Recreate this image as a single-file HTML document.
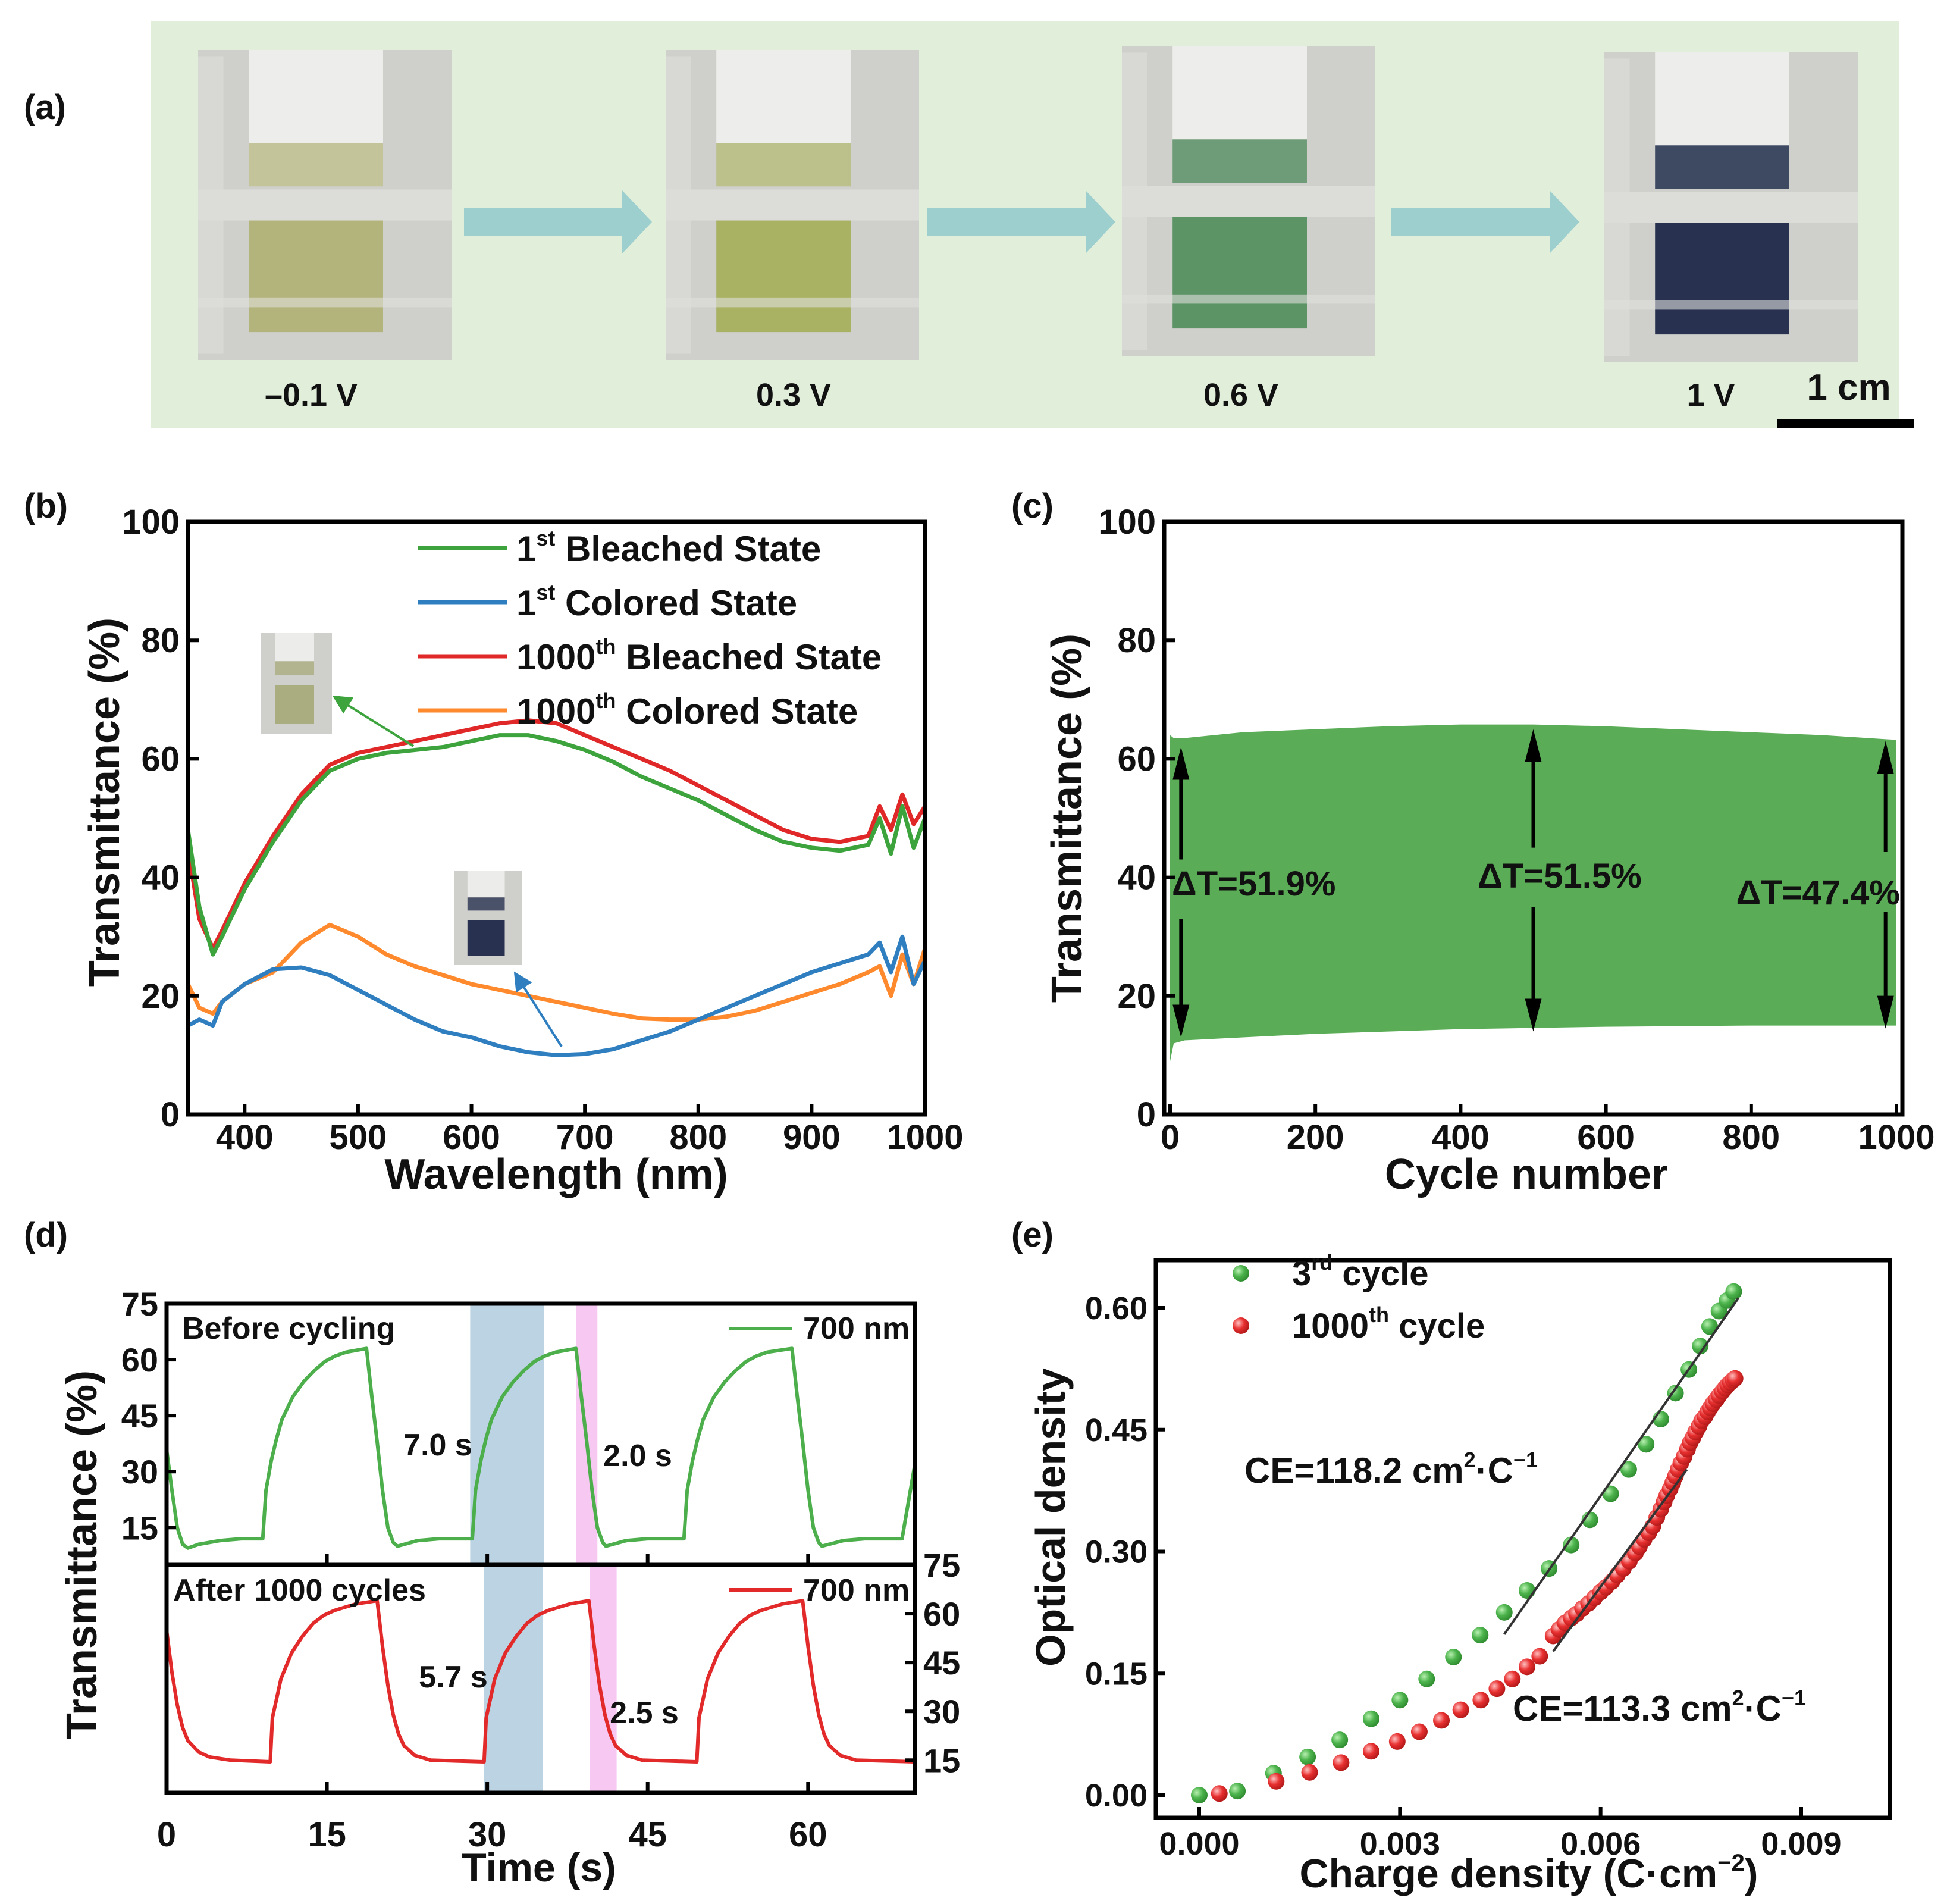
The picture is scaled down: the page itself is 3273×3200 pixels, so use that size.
<!DOCTYPE html>
<html><head><meta charset="utf-8">
<style>
html,body{margin:0;padding:0;background:#fff;}
svg{display:block;}
text{font-family:"Liberation Sans",Arial,sans-serif;font-weight:bold;fill:#111;}
</style></head>
<body>
<svg id="fig" xmlns="http://www.w3.org/2000/svg" width="3273" height="3200" viewBox="0 0 3273 3200">
<defs>
<marker id="ahG" markerWidth="8" markerHeight="8" refX="7" refY="4" orient="auto" markerUnits="strokeWidth"><path d="M0,0 L8,4 L0,8 z" fill="#3da33d"/></marker>
<marker id="ahB" markerWidth="8" markerHeight="8" refX="7" refY="4" orient="auto" markerUnits="strokeWidth"><path d="M0,0 L8,4 L0,8 z" fill="#2f7fc0"/></marker>
<radialGradient id="gdot" cx="0.35" cy="0.35" r="0.7"><stop offset="0" stop-color="#b8f0b0"/><stop offset="0.5" stop-color="#4cb34c"/><stop offset="1" stop-color="#2e8a2e"/></radialGradient>
<radialGradient id="rdot" cx="0.35" cy="0.35" r="0.7"><stop offset="0" stop-color="#ffc0c0"/><stop offset="0.5" stop-color="#e83030"/><stop offset="1" stop-color="#b01818"/></radialGradient>
</defs>

<g>
<text x="40" y="200" font-size="58">(a)</text>
<rect x="253" y="36" width="2939" height="684" fill="#e1eeda"/>
<g id="photos"></g>
<text x="523" y="682" font-size="54" text-anchor="middle">–0.1 V</text>
<text x="1334" y="682" font-size="54" text-anchor="middle">0.3 V</text>
<text x="2086" y="682" font-size="54" text-anchor="middle">0.6 V</text>
<text x="2876" y="682" font-size="54" text-anchor="middle">1 V</text>
<text x="3108" y="672" font-size="62" text-anchor="middle">1 cm</text>
<rect x="2988" y="704" width="229" height="16" fill="#000"/>
</g>

<g id="pb">
<text x="40" y="870" font-size="58">(b)</text>
</g>
<g id="pc">
<text x="1700" y="870" font-size="58">(c)</text>
</g>
<g id="pd">
<text x="40" y="2095" font-size="58">(d)</text>
</g>
<g id="pe">
<text x="1700" y="2095" font-size="58">(e)</text>
</g>
</svg>
<script>
const NS="http://www.w3.org/2000/svg";
function mk(parent,tag,attrs,txt){const e=document.createElementNS(NS,tag);for(const k in attrs)e.setAttribute(k,attrs[k]);if(txt!==undefined)e.textContent=txt;parent.appendChild(e);return e;}

const bWl=[350,360,372,380,400,425,450,475,500,525,550,575,600,625,650,675,700,725,750,775,800,825,850,875,900,925,950,960,970,980,990,1000];
const bGreen=[48,35,27,30,38,46,53,58,60,61,61.5,62,63,64,64,63,61.5,59.5,57,55,53,50.5,48,46,45,44.5,45.5,50,44,52,45,50];
const bRed=[45,33,28,31,39,47,54,59,61,62,63,64,65,66,66.5,66,64,62,60,58,55.5,53,50.5,48,46.5,46,47,52,48,54,49,52];
const bBlue=[15,16,15,19,22,24.5,24.8,23.5,21,18.5,16,14,13,11.5,10.5,10,10.2,11,12.5,14,16,18,20,22,24,25.5,27,29,24,30,22,26];
const bOrange=[22,18,17,19,22,24,29,32,30,27,25,23.5,22,21,20,19,18,17,16.2,16,16,16.5,17.5,19,20.5,22,24,25,20,27,22,28];
const bXTicks=[400,500,600,700,800,900,1000];
const bYTicks=[0,20,40,60,80,100];

const cCycles=[0,5,20,100,200,300,400,500,600,700,800,900,1000];
const cUpper=[64,63.5,63.5,64.5,65,65.5,65.8,65.8,65.5,65,64.5,64,63.2];
const cLower=[9,12,12.5,13,13.6,14,14.4,14.6,14.8,14.9,15,15,15];
const cXTicks=[0,200,400,600,800,1000];
const cYTicks=[0,20,40,60,80,100];

const dTimeTop=[0,0.5,1,1.5,2,3,5,7,9,9.3,9.8,10.3,10.8,11.8,12.8,13.8,14.8,15.8,16.8,18.7,19.2,19.7,20.2,20.7,21.2,21.6,23.5,25.5,28.6,28.9,29.4,29.9,30.4,31.4,32.4,33.4,34.4,35.4,36.4,38.3,38.8,39.3,39.8,40.3,40.8,41.1,43,45,48.4,48.7,49.2,49.7,50.2,51.2,52.2,53.2,54.2,55.2,56.2,58.5,59,59.5,60,60.5,61,61.3,63.3,65.3,68.8,69.4,70];
const dTop=[36,25,15,10.5,9.5,10.5,11.5,12,12,25,33,39,44,50,54,57,59.5,61,62,63,50,38,25,15,11,10,11.5,12,12,25,33,39,44,50,54,57,59.5,61,62,63,50,38,25,15,11,10,11.5,12,12,25,33,39,44,50,54,57,59.5,61,62,63,50,38,25,15,11,10,11.5,12,12,22,32];
const dTimeBot=[0,0.5,1,1.5,2,3,4,6,9.7,9.9,10.7,11.7,12.7,13.7,14.7,15.7,16.7,17.7,19.7,20.2,20.7,21.2,21.7,22.2,23.2,24.7,29.7,29.9,30.7,31.7,32.7,33.7,34.7,35.7,36.7,37.7,39.5,40,40.5,41,41.5,42,43,44.5,49.6,49.8,50.6,51.6,52.6,53.6,54.6,55.6,56.6,57.6,59.5,60,60.5,61,61.5,62,63,64.5,70];
const dBot=[55,42,32,25,21,17.5,16,15,14.5,28,40,48,53,57,59.5,61,62,63,64,50,38,29,23,19.5,16.5,15,14.5,28,40,48,53,57,59.5,61,62,63,64,50,38,29,23,19.5,16.5,15,14.5,28,40,48,53,57,59.5,61,62,63,64,50,38,29,23,19.5,16.5,15,14.5];
const dXTicks=[0,15,30,45,60];
const dYTicks=[15,30,45,60,75];
const dBlueTop=[28.4,35.3], dPinkTop=[38.3,40.3], dBlueBot=[29.7,35.2], dPinkBot=[39.6,42.1];

const eGreenX=[0,0.00057,0.00111,0.00162,0.0021,0.00257,0.003,0.0034,0.0038,0.0042,0.00456,0.0049,0.00523,0.00556,0.00584,0.00615,0.00642,0.00668,0.0069,0.00712,0.00732,0.00749,0.00763,0.00777,0.00789,0.00799];
const eGreenY=[0,0.005,0.027,0.047,0.068,0.094,0.117,0.143,0.170,0.197,0.225,0.252,0.279,0.308,0.339,0.371,0.401,0.432,0.463,0.495,0.524,0.553,0.577,0.596,0.609,0.62];
const eRedX=[0.0003,0.00115,0.00165,0.00212,0.00257,0.00296,0.00329,0.00362,0.00391,0.00421,0.00445,0.00468,0.0049,0.00509,0.00529,0.00538,0.00547,0.00556,0.00564,0.00573,0.00582,0.00591,0.006,0.00608,0.00617,0.00625,0.00634,0.00643,0.00652,0.00658,0.00665,0.00672,0.00678,0.00684,0.0069,0.00695,0.00699,0.00704,0.00708,0.00712,0.00716,0.0072,0.00725,0.0073,0.00734,0.00738,0.00742,0.00747,0.00751,0.00756,0.0076,0.00764,0.00768,0.00773,0.00777,0.00782,0.00786,0.0079,0.00794,0.00798,0.00801];
const eRedY=[0.002,0.017,0.028,0.04,0.054,0.066,0.078,0.092,0.105,0.117,0.131,0.143,0.158,0.171,0.196,0.204,0.212,0.218,0.223,0.23,0.236,0.243,0.25,0.256,0.263,0.271,0.279,0.288,0.298,0.306,0.315,0.323,0.331,0.342,0.352,0.361,0.369,0.377,0.385,0.393,0.401,0.409,0.417,0.426,0.434,0.44,0.447,0.454,0.461,0.466,0.472,0.477,0.482,0.487,0.492,0.497,0.501,0.505,0.508,0.511,0.513];
const eFitGreen=[[0.00456,0.198],[0.00806,0.612]];
const eFitRed=[[0.00529,0.177],[0.00729,0.401]];
const eXTicks=[0,0.003,0.006,0.009];
const eYTicks=[0,0.15,0.30,0.45,0.60];

const photosG=document.getElementById('photos');
const photoBoxes=[[333,84],[1119,84],[1886,78],[2697,88]];
const filmColors=['#b3b37c','#a9b162','#5c9466','#283250'];
const bandColors=['#c4c49a','#bcc08a','#6f9c78','#3e4a62'];
for(let i=0;i<4;i++){
  const [x,y]=photoBoxes[i];const w=426,h=521;
  const g=mk(photosG,'g',{});
  
  
  mk(g,'rect',{x:x,y:y,width:w,height:h,fill:'#cfcfcb'});
  mk(g,'rect',{x:x,y:y+h*0.02,width:w*0.1,height:h*0.96,fill:'#d8d8d4'});
  mk(g,'rect',{x:x+w*0.2,y:y,width:w*0.53,height:h*0.3,fill:'#ededeb'});
  mk(g,'rect',{x:x+w*0.2,y:y+h*0.3,width:w*0.53,height:h*0.14,fill:bandColors[i]});
  mk(g,'rect',{x:x,y:y+h*0.45,width:w,height:h*0.1,fill:'#dcdcd8'});
  mk(g,'rect',{x:x+w*0.2,y:y+h*0.55,width:w*0.53,height:h*0.36,fill:filmColors[i]});
  mk(g,'rect',{x:x,y:y+h*0.8,width:w,height:h*0.03,fill:'#e0e0dc',opacity:0.6});
}
const arrowsA=[[780,1096],[1559,1875],[2339,2655]];
arrowsA.forEach(a=>{
  const p=mk(photosG,'path',{d:`M${a[0]},350 L${a[1]-50},350 L${a[1]-50},320 L${a[1]},373 L${a[1]-50},426 L${a[1]-50},396 L${a[0]},396 Z`,fill:'#9dcfcf'});
  
  
});

function axisBox(g,x0,y0,x1,y1){mk(g,'rect',{x:x0,y:y0,width:x1-x0,height:y1-y0,fill:'none',stroke:'#000','stroke-width':7});}

(function(){
const g=document.getElementById('pb');
const X0=316,X1=1555,Y0=877,Y1=1873;
const sx=v=>X0+(v-350)/(1000-350)*(X1-X0);
const sy=v=>Y1-(v/100)*(Y1-Y0);
const series=[[bGreen,'#3da33d','series-1st-bleached'],[bRed,'#e02828','series-1000th-bleached'],[bBlue,'#2f7fc0','series-1st-colored'],[bOrange,'#ff8a2e','series-1000th-colored']];
const order=[1,0,3,2];
order.forEach(i=>{const s=series[i];
  const pts=bWl.map((w,j)=>sx(w).toFixed(1)+','+sy(s[0][j]).toFixed(1)).join(' ');
  const pl=mk(g,'polyline',{points:pts,fill:'none',stroke:s[1],'stroke-width':7,'stroke-linejoin':'round'});
  
  
});
axisBox(g,X0,Y0,X1,Y1);
bXTicks.forEach(t=>{mk(g,'line',{x1:sx(t),x2:sx(t),y1:Y1,y2:Y1-18,stroke:'#000','stroke-width':6});
  const tx=mk(g,'text',{x:sx(t),y:Y1+58,'font-size':58,'text-anchor':'middle'},String(t));
  
  });
bYTicks.forEach(t=>{mk(g,'line',{x1:X0,x2:X0+18,y1:sy(t),y2:sy(t),stroke:'#000','stroke-width':6});
  const tx=mk(g,'text',{x:X0-14,y:sy(t)+20,'font-size':58,'text-anchor':'end'},String(t));
  
  });
let t=mk(g,'text',{x:935,y:1998,'font-size':72,'text-anchor':'middle'},'Wavelength (nm)');


t=mk(g,'text',{x:0,y:0,'font-size':72,'text-anchor':'middle',transform:'translate(200,1348) rotate(-90)'},'Transmittance (%)');


const leg=[['#3da33d','1','st',' Bleached State'],['#2f7fc0','1','st',' Colored State'],['#e02828','1000','th',' Bleached State'],['#ff8a2e','1000','th',' Colored State']];
leg.forEach((l,i)=>{const y=921+i*91;
  const e=mk(g,'g',{});
  
  
  mk(e,'line',{x1:702,x2:853,y1:y,y2:y,stroke:l[0],'stroke-width':7});
  const tx=mk(e,'text',{x:868,y:y+22,'font-size':60});
  mk(tx,'tspan',{},l[1]);mk(tx,'tspan',{'font-size':36,dy:-26},l[2]);mk(tx,'tspan',{dy:26},l[3]);
});
function inset(x,y,w,h,film){const ig=mk(g,'g',{});
  
  
  mk(ig,'rect',{x:x,y:y,width:w,height:h,fill:'#cfcfcb'});
  mk(ig,'rect',{x:x+w*0.2,y:y,width:w*0.55,height:h*0.28,fill:'#ececea'});
  mk(ig,'rect',{x:x+w*0.2,y:y+h*0.28,width:w*0.55,height:h*0.14,fill:film,opacity:0.8});
  mk(ig,'rect',{x:x+w*0.2,y:y+h*0.52,width:w*0.55,height:h*0.38,fill:film});}
inset(438,1064,120,169,'#a9ad80');inset(763,1464,114,158,'#283250');
let a=mk(g,'line',{x1:695,y1:1254,x2:562,y2:1171,stroke:'#3da33d','stroke-width':4,'marker-end':'url(#ahG)'});


a=mk(g,'line',{x1:944,y1:1759,x2:866,y2:1636,stroke:'#2f7fc0','stroke-width':4,'marker-end':'url(#ahB)'});


})();

(function(){
const g=document.getElementById('pc');
const X0=1957,X1=3198,Y0=877,Y1=1873;
const sx=v=>X0+10+v/1000*(X1-X0-20);
const sy=v=>Y1-(v/100)*(Y1-Y0);
let d='M'+cCycles.map((c,i)=>sx(c).toFixed(1)+','+sy(cUpper[i]).toFixed(1)).join(' L');
for(let i=cCycles.length-1;i>=0;i--)d+=' L'+sx(cCycles[i]).toFixed(1)+','+sy(cLower[i]).toFixed(1);
d+='Z';
const area=mk(g,'path',{d:d,fill:'#5aad56'});


axisBox(g,X0,Y0,X1,Y1);
cXTicks.forEach(t=>{mk(g,'line',{x1:sx(t),x2:sx(t),y1:Y1,y2:Y1-18,stroke:'#000','stroke-width':6});
  const tx=mk(g,'text',{x:sx(t),y:Y1+58,'font-size':58,'text-anchor':'middle'},String(t));
  
  });
cYTicks.forEach(t=>{mk(g,'line',{x1:X0,x2:X0+18,y1:sy(t),y2:sy(t),stroke:'#000','stroke-width':6});
  const tx=mk(g,'text',{x:X0-14,y:sy(t)+20,'font-size':58,'text-anchor':'end'},String(t));
  
  });
let t=mk(g,'text',{x:2566,y:1998,'font-size':72,'text-anchor':'middle'},'Cycle number');


t=mk(g,'text',{x:0,y:0,'font-size':72,'text-anchor':'middle',transform:'translate(1818,1375) rotate(-90)'},'Transmittance (%)');


const arr=[[15,62,13,'ΔT=51.9%',1970,1505,'start'],[500,65,14,'ΔT=51.5%',2622,1492,'middle'],[985,63,14.5,'ΔT=47.4%',3194,1520,'end']];
arr.forEach(a=>{const x=sx(a[0]);const top=sy(a[1]),bot=sy(a[2]);const mid=(top+bot)/2;
  const ag=mk(g,'g',{});
  
  
  mk(ag,'line',{x1:x,x2:x,y1:top+40,y2:mid-55,stroke:'#000','stroke-width':6});
  mk(ag,'line',{x1:x,x2:x,y1:mid+45,y2:bot-40,stroke:'#000','stroke-width':6});
  mk(ag,'path',{d:`M${x},${top} L${x-14},${top+55} L${x+14},${top+55}Z`,fill:'#000'});
  mk(ag,'path',{d:`M${x},${bot} L${x-14},${bot-55} L${x+14},${bot-55}Z`,fill:'#000'});
  mk(ag,'text',{x:a[4],y:a[5],'font-size':58,'text-anchor':a[6]},a[3]);
});
})();

(function(){
const g=document.getElementById('pd');
const X0=280,X1=1538,YT=2191,YM=2630,YB=3013;
const sx=v=>X0+v/70*(X1-X0);
const syT=v=>YM-(v-5)/70*(YM-YT);
const syB=v=>YB-(v-5)/70*(YB-YM);
const sh=(r,y0,y1,c,n)=>{const e=mk(g,'rect',{x:sx(r[0]),y:y0,width:sx(r[1])-sx(r[0]),height:y1-y0,fill:c});
  
  };
sh(dBlueTop,YT,YM,'#bcd3e4','coloring-time-band-top');sh(dPinkTop,YT,YM,'#f7c8f2','bleaching-time-band-top');
sh(dBlueBot,YM,YB,'#bcd3e4','coloring-time-band-bottom');sh(dPinkBot,YM,YB,'#f7c8f2','bleaching-time-band-bottom');
let pl=mk(g,'polyline',{points:dTimeTop.map((t,i)=>sx(t).toFixed(1)+','+syT(dTop[i]).toFixed(1)).join(' '),fill:'none',stroke:'#4caf4c','stroke-width':6,'stroke-linejoin':'round'});


pl=mk(g,'polyline',{points:dTimeBot.map((t,i)=>sx(t).toFixed(1)+','+syB(dBot[i]).toFixed(1)).join(' '),fill:'none',stroke:'#e22a2a','stroke-width':6,'stroke-linejoin':'round'});


axisBox(g,X0,YT,X1,YB);
mk(g,'line',{x1:X0,x2:X1,y1:YM,y2:YM,stroke:'#000','stroke-width':7});
dXTicks.forEach(t=>{mk(g,'line',{x1:sx(t),x2:sx(t),y1:YB,y2:YB-18,stroke:'#000','stroke-width':6});
  mk(g,'line',{x1:sx(t),x2:sx(t),y1:YM,y2:YM-18,stroke:'#000','stroke-width':6});
  const tx=mk(g,'text',{x:sx(t),y:YB+90,'font-size':58,'text-anchor':'middle'},String(t));
  
  });
dYTicks.forEach(t=>{mk(g,'line',{x1:X0,x2:X0+16,y1:syT(t),y2:syT(t),stroke:'#000','stroke-width':6});
  let tx=mk(g,'text',{x:X0-14,y:syT(t)+20,'font-size':56,'text-anchor':'end'},String(t));
  
  
  mk(g,'line',{x1:X1,x2:X1-16,y1:syB(t),y2:syB(t),stroke:'#000','stroke-width':6});
  tx=mk(g,'text',{x:X1+14,y:syB(t)+20,'font-size':56,'text-anchor':'start'},String(t));
  
  });
let t=mk(g,'text',{x:906,y:3162,'font-size':68,'text-anchor':'middle'},'Time (s)');


t=mk(g,'text',{x:0,y:0,'font-size':72,'text-anchor':'middle',transform:'translate(162,2613) rotate(-90)'},'Transmittance (%)');


const labels=[['Before cycling',306,2250,'start'],['After 1000 cycles',291,2690,'start'],['700 nm',1350,2250,'start'],['700 nm',1350,2690,'start'],['7.0 s',736,2446,'middle'],['2.0 s',1072,2464,'middle'],['5.7 s',762,2836,'middle'],['2.5 s',1083,2896,'middle']];
labels.forEach(l=>{const tx=mk(g,'text',{x:l[1],y:l[2],'font-size':52,'text-anchor':l[3]},l[0]);
  
  });
mk(g,'line',{x1:1226,x2:1332,y1:2233,y2:2233,stroke:'#4caf4c','stroke-width':6});
mk(g,'line',{x1:1226,x2:1332,y1:2672,y2:2672,stroke:'#e22a2a','stroke-width':6});
})();

(function(){
const g=document.getElementById('pe');
const X0=1943,X1=3177,Y0=2118,Y1=3055;
const sx=v=>2016+v/0.009*(3028-2016);
const sy=v=>3017-v/0.6*(3017-2198);
axisBox(g,X0,Y0,X1,Y1);
eXTicks.forEach(t=>{mk(g,'line',{x1:sx(t),x2:sx(t),y1:Y1,y2:Y1-18,stroke:'#000','stroke-width':6});
  const tx=mk(g,'text',{x:sx(t),y:Y1+62,'font-size':54,'text-anchor':'middle'},t.toFixed(3));
  
  });
eYTicks.forEach(t=>{mk(g,'line',{x1:X0,x2:X0+16,y1:sy(t),y2:sy(t),stroke:'#000','stroke-width':6});
  const tx=mk(g,'text',{x:X0-14,y:sy(t)+19,'font-size':54,'text-anchor':'end'},t.toFixed(2));
  
  });
eGreenX.forEach((x,i)=>{const c=mk(g,'circle',{cx:sx(x),cy:sy(eGreenY[i]),r:14,fill:'url(#gdot)'});
  
  });
eRedX.forEach((x,i)=>{const c=mk(g,'circle',{cx:sx(x),cy:sy(eRedY[i]),r:14,fill:'url(#rdot)'});
  
  });
let l=mk(g,'line',{x1:sx(eFitGreen[0][0]),y1:sy(eFitGreen[0][1]),x2:sx(eFitGreen[1][0]),y2:sy(eFitGreen[1][1]),stroke:'#333','stroke-width':4});


l=mk(g,'line',{x1:sx(eFitRed[0][0]),y1:sy(eFitRed[0][1]),x2:sx(eFitRed[1][0]),y2:sy(eFitRed[1][1]),stroke:'#333','stroke-width':4});


function ce(x,y,num,name){const tx=mk(g,'text',{x:x,y:y,'font-size':60});
  
  
  mk(tx,'tspan',{},'CE='+num+' cm');mk(tx,'tspan',{'font-size':36,dy:-26},'2');mk(tx,'tspan',{dy:26},'·C');mk(tx,'tspan',{'font-size':36,dy:-26},'−1');}
ce(2092,2492,'118.2','ce-label-3rd-cycle');ce(2543,2892,'113.3','ce-label-1000th-cycle');
const lg=[['url(#gdot)',2140,'3','rd',' cycle'],['url(#rdot)',2228,'1000','th',' cycle']];
lg.forEach(e=>{const gg=mk(g,'g',{});
  
  
  mk(gg,'circle',{cx:2086,cy:e[1],r:14,fill:e[0]});
  const tx=mk(gg,'text',{x:2172,y:e[1]+20,'font-size':58});
  mk(tx,'tspan',{},e[2]);mk(tx,'tspan',{'font-size':36,dy:-26},e[3]);mk(tx,'tspan',{dy:26},e[4]);});
let t=mk(g,'text',{x:2570,y:3172,'font-size':68,'text-anchor':'middle'});


mk(t,'tspan',{},'Charge density (C·cm');mk(t,'tspan',{'font-size':40,dy:-28},'−2');mk(t,'tspan',{dy:28},')');
t=mk(g,'text',{x:0,y:0,'font-size':70,'text-anchor':'middle',transform:'translate(1790,2550) rotate(-90)'},'Optical density');


})();
</script>
</body></html>
